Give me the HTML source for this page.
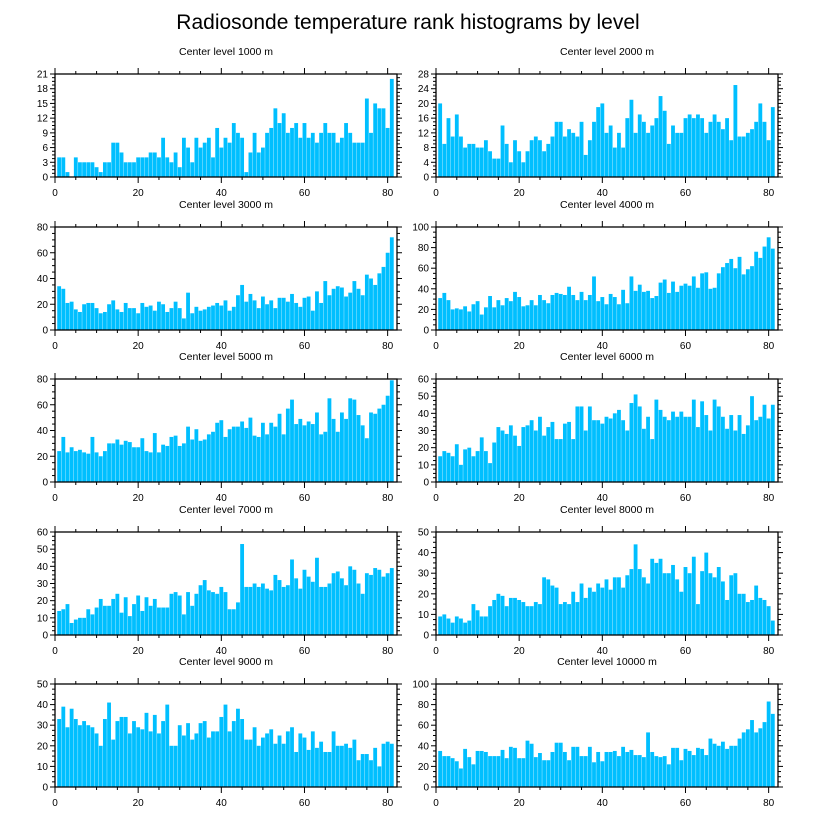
<!DOCTYPE html>
<html><head><meta charset="utf-8"><style>
body{margin:0;background:#fff;}
svg{display:block;font-family:"Liberation Sans",sans-serif;}
</style></head><body>
<svg id="chart" width="816" height="824">
<text x="408" y="29" text-anchor="middle" font-size="21">Radiosonde temperature rank histograms by level</text>
</svg>
<script>
const levels = ["1000","2000","3000","4000","5000","6000","7000","8000","9000","10000"];
const yMaxes = [21,28,80,100,80,60,60,50,50,100];
const yMajorSteps = [3,4,20,20,20,10,10,10,10,20];
const xTickLabels = [0,20,40,60,80];
const s1000=[4,4,1,0,4,3,3,3,3,2,1,3,3,7,7,5,3,3,3,4,4,4,5,5,4,8,4,3,5,2,8,6,3,8,6,7,8,4,10,6,8,7,11,9,8,1,5,9,5,6,9,10,14,11,13,9,10,11,8,11,8,9,7,9,11,9,9,7,8,11,9,7,7,7,16,9,15,14,14,10,20];
const s2000=[20,9,16,11,17,11,8,9,9,8,8,10,7,5,5,14,9,4,10,7,4,7,10,11,10,7,9,11,15,15,11,13,12,11,15,6,10,15,19,20,12,14,8,12,8,16,21,12,17,15,12,14,16,22,18,9,14,12,12,16,17,16,17,16,12,15,17,15,13,16,10,25,11,11,12,13,15,20,15,10,19];
const s3000=[34,32,21,22,16,14,20,21,21,17,13,14,20,23,16,14,21,17,17,13,21,18,19,15,22,20,14,17,22,17,9,29,13,18,15,16,18,19,21,19,23,15,18,27,35,22,28,23,17,26,20,23,17,25,25,22,28,21,18,25,26,15,30,21,38,27,32,34,33,26,29,38,32,27,43,40,35,44,49,60,72];
const s4000=[31,36,29,20,21,20,23,18,25,28,15,22,33,22,29,24,31,28,37,32,23,24,29,24,34,29,26,34,36,35,34,42,34,29,37,29,34,52,28,32,25,35,32,25,39,26,52,38,44,37,38,31,33,46,49,36,47,37,43,45,43,52,41,55,56,40,41,55,61,65,69,60,71,54,59,62,76,70,81,90,79];
const s5000=[24,35,23,27,24,25,23,22,35,23,20,24,30,30,33,29,32,31,27,27,34,24,23,38,23,29,28,35,36,28,30,43,33,41,32,33,37,39,46,48,35,41,43,43,47,42,50,36,35,46,37,46,43,53,37,57,64,45,49,44,47,45,54,37,39,65,49,39,54,49,65,64,52,44,34,54,53,57,60,67,79];
const s6000=[15,18,17,15,22,10,19,20,15,18,26,18,11,23,32,30,28,33,27,21,32,33,36,30,38,27,32,35,25,25,34,35,25,44,44,30,44,36,36,34,38,37,40,42,36,30,46,51,44,31,38,25,48,42,38,36,41,38,41,38,38,48,32,47,39,30,48,44,38,31,39,30,39,28,33,50,36,38,45,37,45];
const s7000=[14,15,18,7,9,10,10,15,12,16,21,17,17,21,24,13,22,11,18,23,14,22,17,21,16,16,16,24,25,23,12,25,17,24,29,32,26,25,24,28,25,15,15,19,53,28,28,30,28,30,27,26,35,32,28,29,44,33,27,38,34,31,45,28,28,30,36,37,33,29,40,38,30,24,36,35,39,38,34,36,39];
const s8000=[9,10,8,6,9,8,6,7,15,12,9,9,14,17,20,19,14,18,18,17,16,14,14,16,15,28,27,24,23,15,16,15,21,16,25,18,23,21,25,23,27,22,28,28,23,29,32,44,32,28,25,37,35,37,30,30,34,27,21,33,30,38,15,31,40,30,28,33,26,17,29,30,20,20,16,17,24,18,17,14,7];
const s9000=[33,39,29,38,33,30,32,30,29,26,20,33,41,23,32,34,34,26,32,29,28,36,27,35,26,32,40,20,20,30,25,31,23,26,31,32,24,27,27,34,40,27,32,38,33,23,23,29,20,24,26,28,21,25,21,27,29,17,26,24,18,27,19,22,17,17,27,20,20,21,19,23,13,16,16,13,19,10,21,22,21];
const s10000=[35,30,30,28,25,18,37,29,22,35,35,34,30,30,30,36,28,39,38,28,28,45,42,29,33,26,26,34,43,43,34,26,39,39,30,30,39,24,34,25,34,34,35,30,39,34,36,31,31,29,53,34,30,29,30,22,38,38,26,37,35,31,38,37,31,47,42,40,44,37,40,40,47,53,56,65,53,57,63,83,71];
const series=[s1000,s2000,s3000,s4000,s5000,s6000,s7000,s8000,s9000,s10000];

const svg=document.getElementById('chart');
const NS='http://www.w3.org/2000/svg';
function mk(tag,attrs,parent){const e=document.createElementNS(NS,tag);for(const k in attrs)e.setAttribute(k,attrs[k]);(parent||svg).appendChild(e);return e;}
const colX=[55,436], W=342, H=103, rowY=[74,227,379,532,684], XMAX=82.25;

series.forEach((vals,i)=>{
  const L=colX[i%2], T=rowY[Math.floor(i/2)], B=T+H, R=L+W;
  const ymax=yMaxes[i], step=yMajorSteps[i];
  const xs=v=>L+v/XMAX*W, ys=v=>B-v/ymax*H;
  const g=mk('g',{});
  
  
  const t=mk('text',{x:(L+R)/2,y:T-19,'text-anchor':'middle','font-size':'10.5'},g);
  
  
  t.textContent='Center level '+levels[i]+' m';
  const uw=W/XMAX;
  vals.forEach((v,j)=>{
    const r=mk('rect',{x:xs(j+1)-uw*0.46,y:ys(v),width:uw*0.92,height:B-ys(v),fill:'#00bfff'},g);
    
    
  });
  const f=mk('rect',{x:L,y:T,width:W,height:H,fill:'none',stroke:'#000','stroke-width':1.3},g);
  
  
  for(let v=0;v<=80;v+=5){
    const major=v%20===0, len=major?6:3, x=xs(v);
    mk('line',{x1:x,x2:x,y1:B,y2:B+len,stroke:'#000','stroke-width':1},g);
    mk('line',{x1:x,x2:x,y1:T,y2:T-len,stroke:'#000','stroke-width':1},g);
  }
  xTickLabels.forEach(v=>{
    const tl=mk('text',{x:xs(v),y:B+19,'text-anchor':'middle','font-size':'10'},g);
    
    
    tl.textContent=v;
  });
  const minor=step/4;
  for(let k=0;k*minor<=ymax+1e-9;k++){
    const v=k*minor, major=k%4===0, len=major?5:3, y=ys(v);
    mk('line',{x1:L,x2:L-len,y1:y,y2:y,stroke:'#000','stroke-width':1},g);
    mk('line',{x1:R,x2:R+len,y1:y,y2:y,stroke:'#000','stroke-width':1},g);
  }
  for(let v=0;v<=ymax+1e-9;v+=step){
    const tl=mk('text',{x:L-7,y:ys(v)+3.5,'text-anchor':'end','font-size':'10'},g);
    
    
    tl.textContent=v;
  }
});
</script>
</body></html>
